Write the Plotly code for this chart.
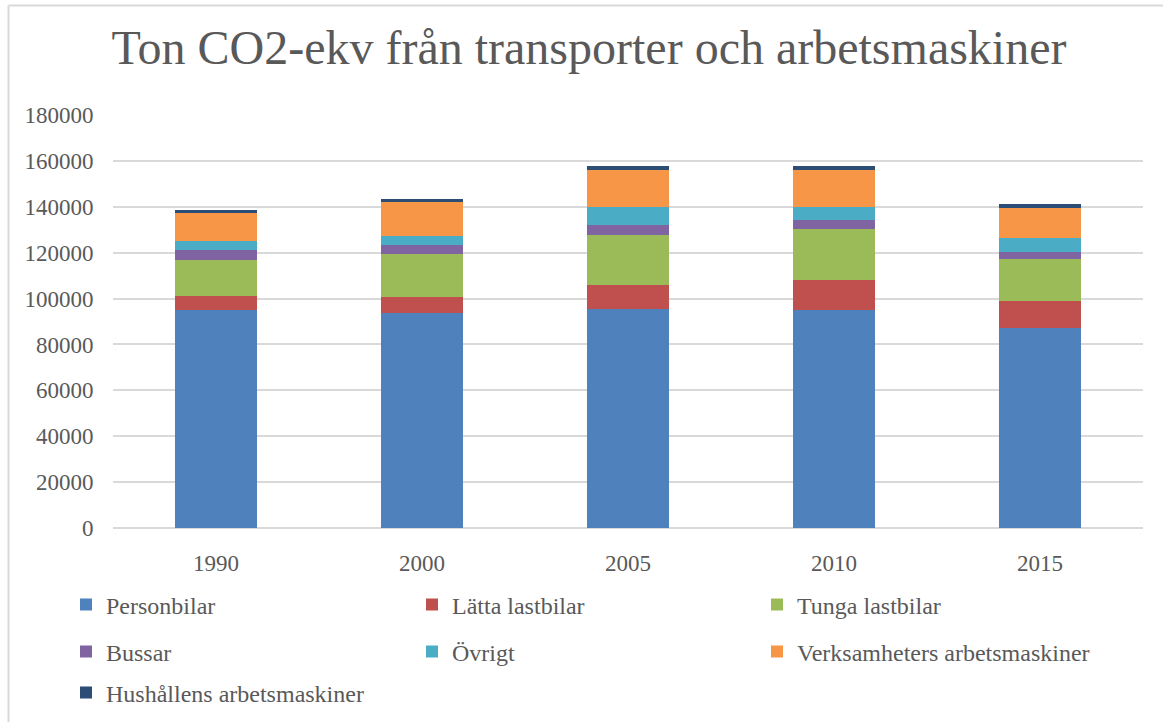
import plotly.graph_objects as go

years = ["1990", "2000", "2005", "2010", "2015"]
personbilar = [94800, 93900, 95500, 95100, 87000]
latta_lastbilar = [6400, 6800, 10500, 13000, 12000]
tunga_lastbilar = [15600, 18700, 21500, 22000, 18400]
bussar = [4400, 3900, 4400, 4350, 3000]
ovrigt = [3900, 3900, 7900, 5600, 6000]
verksamheters = [12200, 14800, 16100, 15900, 13000]
hushallens = [1300, 1300, 1700, 1700, 1700]

series = [
    ("Personbilar", personbilar, "#4F81BD"),
    ("Lätta lastbilar", latta_lastbilar, "#C0504D"),
    ("Tunga lastbilar", tunga_lastbilar, "#9BBB59"),
    ("Bussar", bussar, "#8064A2"),
    ("Övrigt", ovrigt, "#4BACC6"),
    ("Verksamheters arbetsmaskiner", verksamheters, "#F79646"),
    ("Hushållens arbetsmaskiner", hushallens, "#2C4D75"),
]

W, H = 1163, 722
L, R, T, B = 113, 20, 115, 194
pw, ph = W - L - R, H - T - B

def px_x(p):
    return (p - L) / pw

def px_y(p):
    return (H - B - p) / ph

font_family = "Liberation Serif, Times New Roman, serif"
txt = "#595959"

# legend placement: 3 columns, 3 rows
col_x = [66, 412, 757]
row_y = [605, 652, 693]

fig = go.Figure()
legends = {}
for i, (name, vals, color) in enumerate(series):
    key = "legend" if i == 0 else f"legend{i + 1}"
    fig.add_trace(go.Bar(x=years, y=vals, name=name, marker=dict(color=color, line=dict(width=0)),
                         legend=key, showlegend=True))
    legends[key] = dict(orientation="h", xanchor="left", yanchor="middle",
                        x=px_x(col_x[i % 3]), y=px_y(row_y[i // 3]),
                        font=dict(family=font_family, size=24, color=txt),
                        bgcolor="rgba(0,0,0,0)", visible=True)

fig.update_layout(
    width=W, height=H,
    showlegend=True,
    margin=dict(l=L, r=R, t=T, b=B, pad=0, autoexpand=False),
    barmode="stack", bargap=0.6,
    paper_bgcolor="white", plot_bgcolor="white",
    title=dict(text="Ton CO2-ekv från transporter och arbetsmaskiner", x=(589 / W), xanchor="center",
               y=1 - 47 / H, yanchor="middle",
               font=dict(family=font_family, size=48, color=txt)),
    font=dict(family=font_family, size=23, color=txt),
    xaxis=dict(showgrid=False, showline=False, ticks="outside", ticklen=14,
               tickcolor="rgba(0,0,0,0)", tickfont=dict(family=font_family, size=23, color=txt)),
    yaxis=dict(range=[0, 180000], dtick=20000, showgrid=True, gridcolor="#D9D9D9", gridwidth=1.5,
               zeroline=True, zerolinecolor="#D9D9D9", zerolinewidth=1.5,
               ticks="outside", ticklen=14, tickcolor="rgba(0,0,0,0)",
               tickfont=dict(family=font_family, size=23, color=txt), tickformat="d"),
    shapes=[
        dict(type="line", xref="paper", yref="paper", x0=px_x(8.5), x1=px_x(W + 5),
             y0=px_y(5.5), y1=px_y(5.5), line=dict(color="#D9D9D9", width=2)),
        dict(type="line", xref="paper", yref="paper", x0=px_x(8.5), x1=px_x(8.5),
             y0=px_y(5.5), y1=px_y(H + 5), line=dict(color="#D9D9D9", width=2)),
    ],
    **legends,
)

fig.write_html("out.html", config={"displayModeBar": False},
               post_script="document.body.style.margin='0px';")
